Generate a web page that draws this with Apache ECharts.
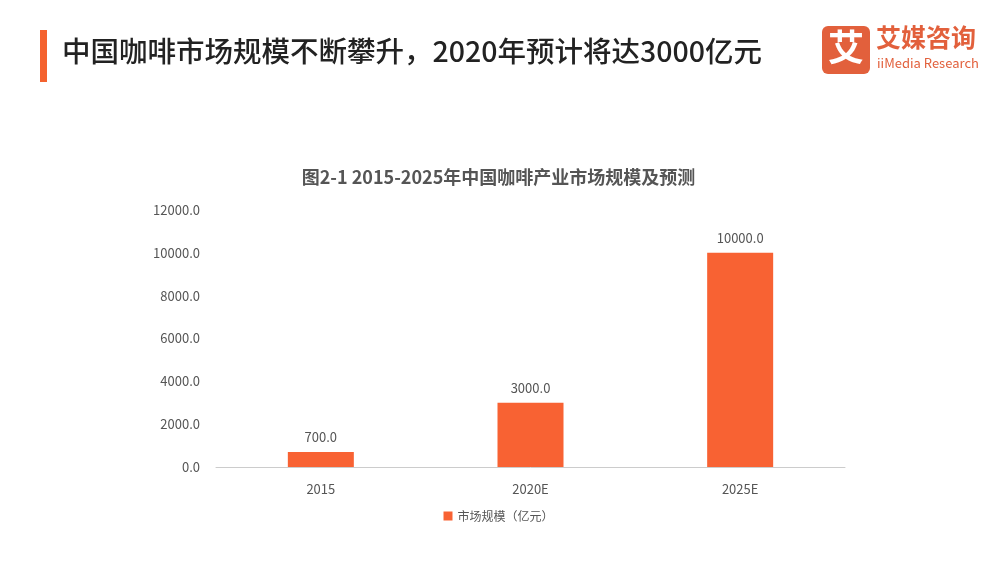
<!DOCTYPE html>
<html><head><meta charset="utf-8">
<script src="https://cdn.jsdelivr.net/npm/echarts@6/dist/echarts.min.js"></script>
<style>
html,body{margin:0;padding:0;background:#fff;}
#chart{width:997px;height:567px;}
</style></head>
<body><div id="chart"></div>
<script>
const categories = ['2015', '2020E', '2025E'];
const marketSize = [700, 3000, 10000];
const seriesName = '市场规模（亿元）';

const chart = echarts.init(document.getElementById('chart'));
const font = '"Noto Sans CJK SC", "Noto Sans", sans-serif';
chart.setOption({
    textStyle: {fontFamily: font},
    graphic: [
        {type: 'rect', left: 40, top: 30, shape: {width: 7, height: 52}, style: {fill: '#f4622f'}},
        {type: 'text', left: 62, top: 37, style: {text: '中国咖啡市场规模不断攀升，2020年预计将达3000亿元', font: '500 28.5px ' + font, fill: '#222'}},
        {type: 'rect', left: 822, top: 26, shape: {width: 48, height: 48, r: 6}, style: {fill: '#e2603c'}},
        {type: 'text', left: 828, top: 29, style: {text: '艾', font: 'bold 36px ' + font, fill: '#fff'}},
        {type: 'text', left: 876, top: 25, style: {text: '艾媒咨询', font: 'bold 25px ' + font, fill: '#e2603c'}},
        {type: 'text', left: 877, top: 57, style: {text: 'iiMedia Research', font: '13px ' + font, fill: '#e2603c'}}
    ],
    title: {
        text: '图2-1 2015-2025年中国咖啡产业市场规模及预测',
        left: 'center', top: 163,
        textStyle: {fontSize: 18, fontWeight: 'bold', color: '#555', fontFamily: font}
    },
    legend: {
        bottom: 40, left: 'center', itemWidth: 9, itemHeight: 9, icon: 'rect',
        textStyle: {fontSize: 12, color: '#555'},
        data: [seriesName]
    },
    grid: {left: 216, right: 152, top: 210, bottom: 100},
    xAxis: {
        type: 'category', data: categories,
        axisLine: {lineStyle: {color: '#ccc'}},
        axisTick: {show: false},
        axisLabel: {color: '#555', fontSize: 13, margin: 16}
    },
    yAxis: {
        type: 'value', min: 0, max: 12000, interval: 2000,
        splitLine: {show: false},
        axisLine: {show: false}, axisTick: {show: false},
        axisLabel: {color: '#555', fontSize: 13, margin: 16, formatter: v => v.toFixed(1)}
    },
    series: [{
        name: seriesName, type: 'bar', data: marketSize, barWidth: 66,
        itemStyle: {color: '#f86233'},
        label: {show: true, position: 'top', distance: 8, color: '#555', fontSize: 13, formatter: p => p.value.toFixed(1)}
    }]
});
</script></body></html>
